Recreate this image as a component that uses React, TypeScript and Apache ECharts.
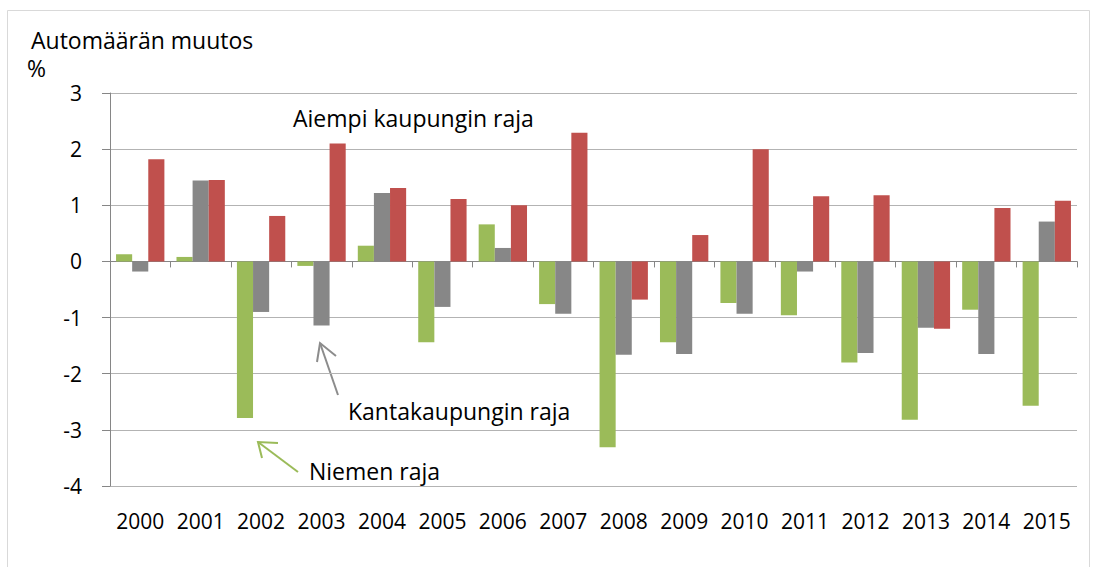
import React, { useEffect, useRef } from "react";
import * as echarts from "echarts";

const years = ["2000","2001","2002","2003","2004","2005","2006","2007","2008","2009","2010","2011","2012","2013","2014","2015"];
const niemenRaja = [0.13, 0.08, -2.79, -0.08, 0.28, -1.44, 0.66, -0.76, -3.31, -1.44, -0.74, -0.96, -1.80, -2.82, -0.86, -2.57];
const kantakaupunginRaja = [-0.18, 1.44, -0.90, -1.14, 1.22, -0.81, 0.24, -0.93, -1.66, -1.65, -0.93, -0.18, -1.63, -1.18, -1.65, 0.71];
const aiempiKaupunginRaja = [1.82, 1.45, 0.81, 2.10, 1.31, 1.11, 1.00, 2.29, -0.68, 0.47, 2.00, 1.16, 1.18, -1.20, 0.95, 1.08];
const yMin = -4;
const yMax = 3;

const FONT = "'Open Sans', 'Noto Sans', sans-serif";

export default function App() {
  const ref = useRef<HTMLDivElement>(null);
  useEffect(() => {
    document.body.style.margin = "0";
    const chart = echarts.init(ref.current!, null, { renderer: "svg" });
    const textStyle = (t: string, x: number, y: number, color = "#000") => ({
      type: "text",
      x,
      y,
      style: { text: t, fill: color, font: `23px ${FONT}`, textVerticalAlign: "middle" },
    });
    chart.setOption({
      animation: false,
      backgroundColor: "#ffffff",
      grid: { left: 110, right: 21, top: 93, bottom: 81 },
      xAxis: [
        {
          type: "category",
          data: years,
          axisLine: { onZero: true, lineStyle: { color: "#868686", width: 1 } },
          axisTick: { show: true, length: 6, lineStyle: { color: "#868686" } },
          axisLabel: { show: false },
          splitLine: { show: false },
        },
        {
          type: "category",
          data: years,
          position: "bottom",
          axisLine: { show: false, onZero: false },
          axisTick: { show: false },
          axisLabel: { show: true, interval: 0, color: "#000", fontFamily: FONT, fontSize: 21, margin: 24 },
        },
      ],
      yAxis: {
        type: "value",
        min: yMin,
        max: yMax,
        interval: 1,
        axisLine: { show: true, lineStyle: { color: "#868686" } },
        axisTick: { show: true, length: 8, lineStyle: { color: "#868686" } },
        axisLabel: { color: "#000", fontFamily: FONT, fontSize: 21, margin: 28 },
        splitLine: { show: true, lineStyle: { color: "#B3B3B3", width: 1 } },
      },
      series: [
        { name: "Niemen raja", type: "bar", data: niemenRaja, itemStyle: { color: "#9BBB59" }, barGap: "0%", barCategoryGap: "20%" },
        { name: "Kantakaupungin raja", type: "bar", data: kantakaupunginRaja, itemStyle: { color: "#878787" }, barGap: "0%", barCategoryGap: "20%" },
        { name: "Aiempi kaupungin raja", type: "bar", data: aiempiKaupunginRaja, itemStyle: { color: "#C0504D" }, barGap: "0%", barCategoryGap: "20%" },
      ],
      graphic: [
        { type: "rect", shape: { x: 7.5, y: 10.5, width: 1082, height: 600 }, style: { fill: "none", stroke: "#D9D9D9", lineWidth: 1 }, silent: true },
        textStyle("Automäärän muutos", 31, 40),
        textStyle("%", 27, 68),
        textStyle("Aiempi kaupungin raja", 293, 118),
        textStyle("Kantakaupungin raja", 348, 411),
        textStyle("Niemen raja", 309, 471),
        { type: "line", shape: { x1: 338, y1: 395, x2: 320, y2: 343 }, style: { stroke: "#8C8C8C", lineWidth: 2 } },
        { type: "polyline", shape: { points: [[317, 362], [320, 343], [336, 356]] }, style: { stroke: "#8C8C8C", lineWidth: 2, fill: "none" } },
        { type: "line", shape: { x1: 298, y1: 472, x2: 258, y2: 442 }, style: { stroke: "#9BBB59", lineWidth: 2 } },
        { type: "polyline", shape: { points: [[262, 458], [258, 442], [278, 443]] }, style: { stroke: "#9BBB59", lineWidth: 2, fill: "none" } },
      ],
    });
    return () => chart.dispose();
  }, []);
  return <div ref={ref} style={{ width: 1098, height: 567 }} />;
}
